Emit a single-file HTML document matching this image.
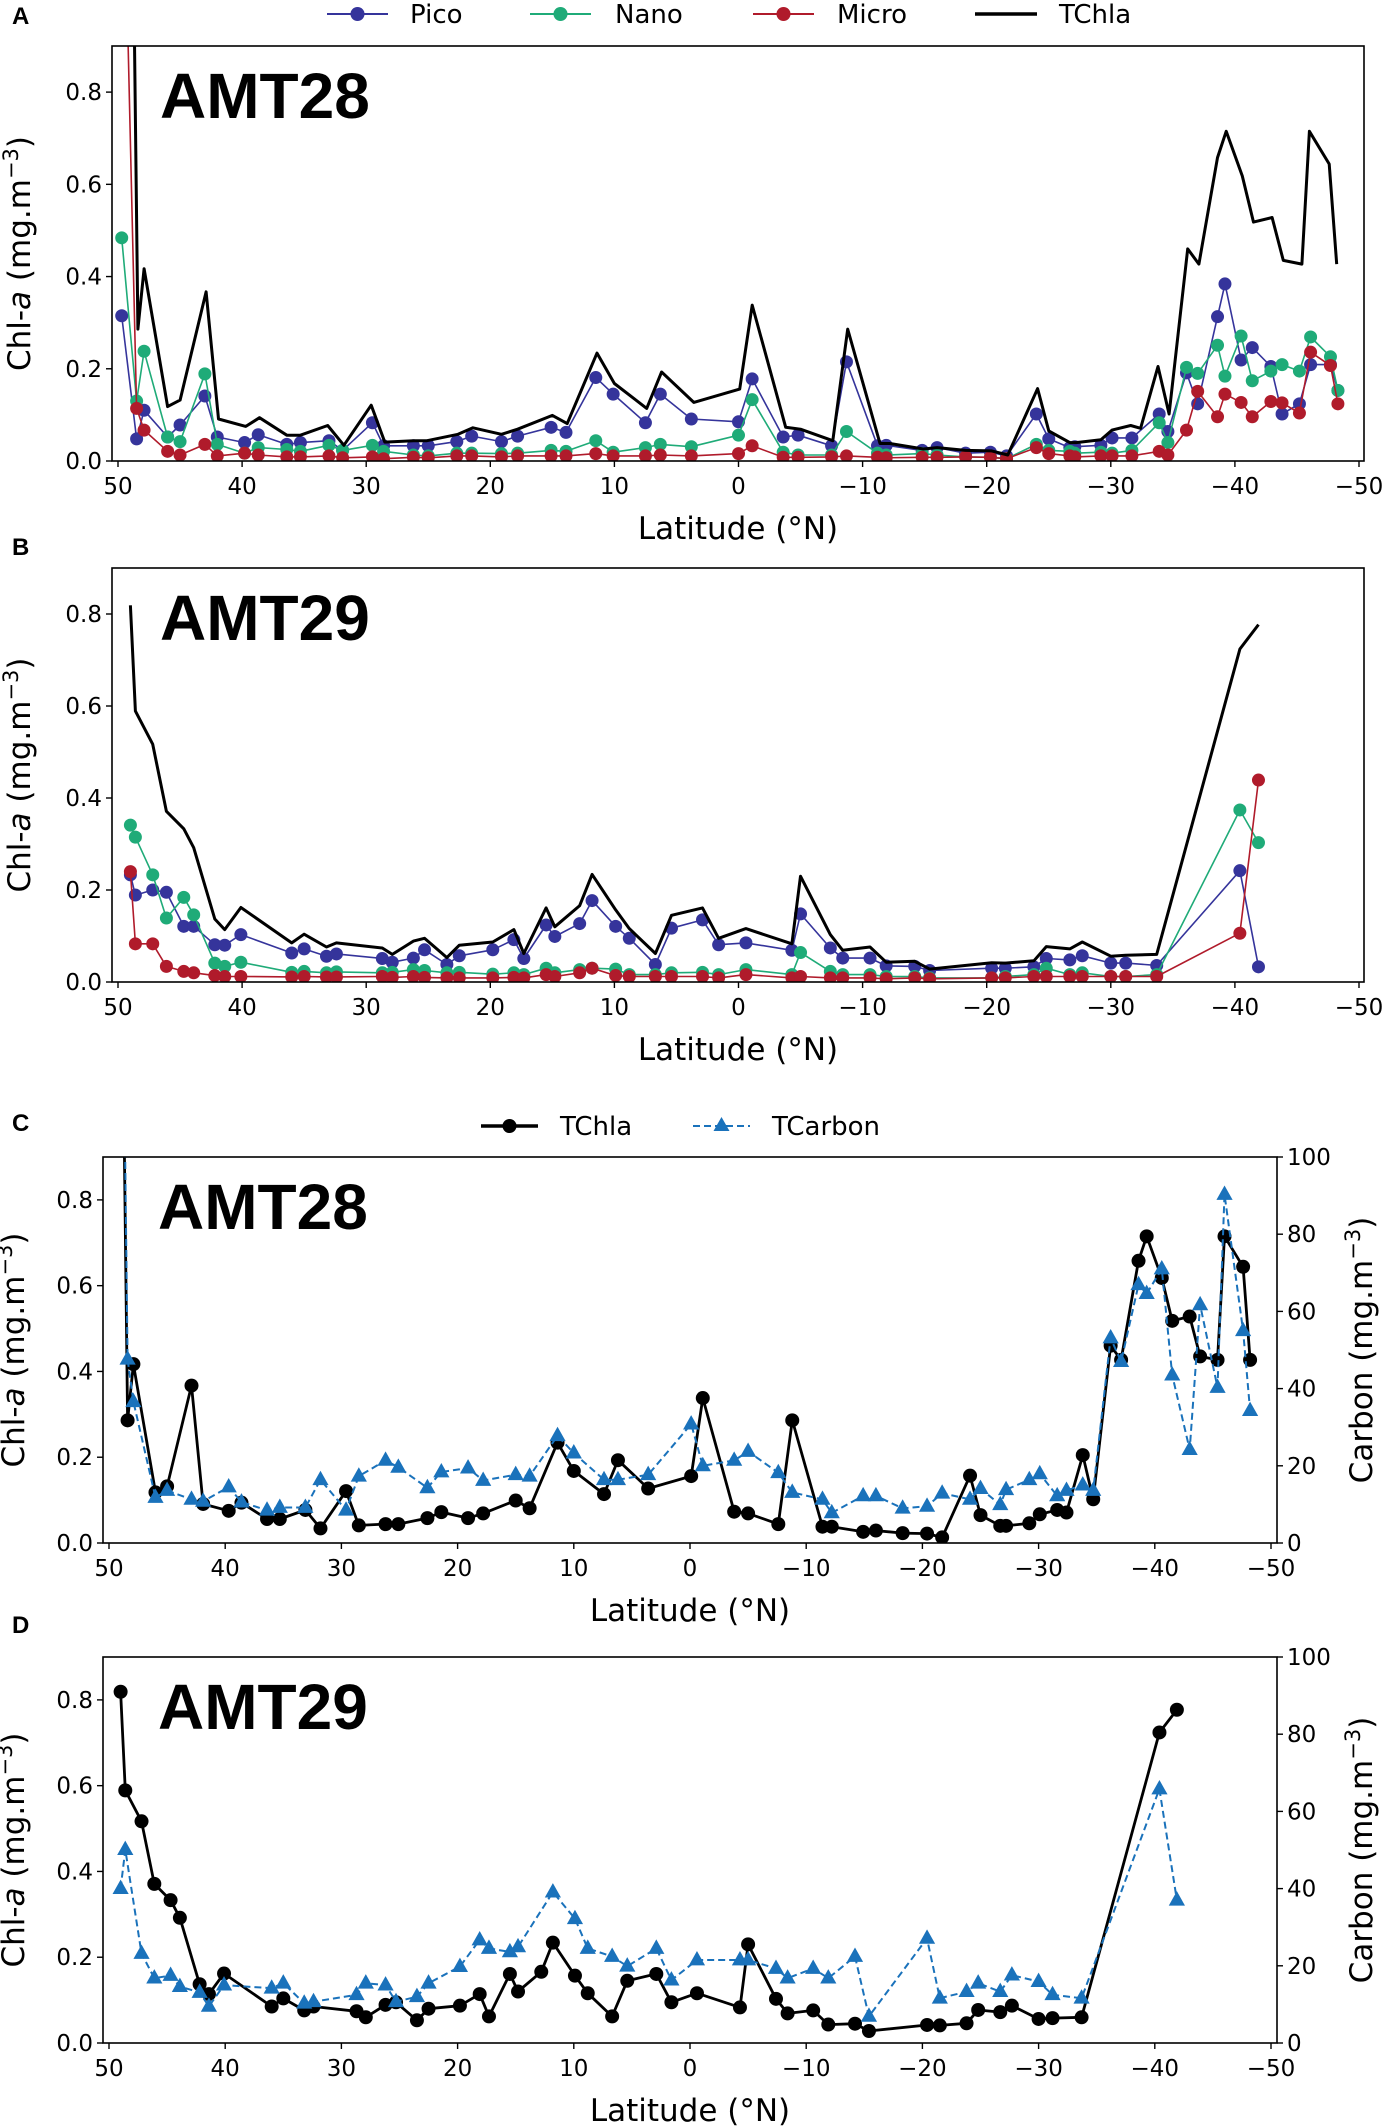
<!DOCTYPE html>
<html><head><meta charset="utf-8"><style>
html,body{margin:0;padding:0;background:#fff}
svg{display:block;font-family:"DejaVu Sans","Liberation Sans",sans-serif}
</style></head><body>
<svg id="fig" width="1384" height="2127" viewBox="0 0 1384 2127" xmlns="http://www.w3.org/2000/svg"></svg>
<script>
// ---- AMT28 (panels A, C) ----
const latC = [48.8,48.4,47.9,46.0,45.0,42.9,41.9,39.7,38.6,36.4,35.3,33.1,31.8,29.6,28.5,26.2,25.1,22.6,21.4,19.1,17.8,15.0,13.8,11.4,10.0,7.4,6.2,3.6,-0.1,-1.1,-3.8,-5.0,-7.6,-8.8,-11.4,-12.2,-14.9,-16.0,-18.3,-20.4,-21.7,-24.1,-25.0,-26.7,-27.2,-29.2,-30.1,-31.6,-32.4,-33.8,-34.7,-36.2,-37.1,-38.6,-39.3,-40.6,-41.5,-43.0,-43.9,-45.4,-46.0,-47.6,-48.2];
const tchla28 = [1.2,0.286,0.417,0.118,0.132,0.367,0.091,0.075,0.094,0.056,0.056,0.077,0.034,0.121,0.041,0.044,0.044,0.058,0.072,0.058,0.069,0.099,0.081,0.234,0.168,0.114,0.193,0.127,0.156,0.338,0.073,0.069,0.044,0.286,0.038,0.038,0.026,0.029,0.023,0.022,0.013,0.157,0.065,0.040,0.040,0.046,0.067,0.077,0.071,0.205,0.102,0.460,0.427,0.658,0.715,0.618,0.518,0.528,0.435,0.427,0.715,0.644,0.427];
const carbon28 = [150,47.6,36.6,11.8,13.6,11.3,10.8,14.5,10.6,8.5,9.2,9.2,16.4,8.5,17.3,21.4,19.6,14.3,18.4,19.4,16.2,17.7,17.3,27.8,23.3,16.4,16.4,17.7,30.8,20.0,21.4,23.7,18.2,13.1,11.3,7.8,12.2,12.2,9.0,9.5,12.9,11.3,14.1,9.9,13.8,16.4,17.9,12.2,13.6,15.0,13.6,53.1,47,66.9,64.6,71.0,43.5,24.2,61.7,40.3,90.3,55.0,34.3];
const latA = [49.7,48.5,47.9,46.0,45.0,43.0,42.0,39.8,38.7,36.4,35.3,33.0,31.9,29.5,28.6,26.2,25.0,22.7,21.5,19.1,17.8,15.1,13.9,11.5,10.1,7.5,6.3,3.8,0.0,-1.1,-3.6,-4.8,-7.5,-8.7,-11.2,-11.9,-14.8,-16.0,-18.3,-20.3,-21.6,-24.0,-25.0,-26.7,-27.1,-29.2,-30.1,-31.7,-33.9,-34.6,-36.1,-37.0,-38.6,-39.2,-40.5,-41.4,-42.9,-43.8,-45.2,-46.1,-47.7,-48.3];
const pico28 = [0.315,0.048,0.11,0.052,0.078,0.141,0.052,0.040,0.057,0.036,0.040,0.044,0.023,0.083,0.033,0.033,0.033,0.042,0.054,0.042,0.054,0.073,0.062,0.181,0.145,0.083,0.145,0.091,0.085,0.178,0.052,0.056,0.033,0.215,0.033,0.034,0.023,0.029,0.017,0.019,0.011,0.102,0.048,0.029,0.031,0.034,0.050,0.050,0.102,0.064,0.191,0.124,0.313,0.384,0.219,0.246,0.205,0.102,0.124,0.209,0.209,0.153];
const nano28 = [0.484,0.13,0.238,0.052,0.042,0.189,0.036,0.017,0.029,0.025,0.021,0.034,0.023,0.034,0.021,0.013,0.011,0.017,0.017,0.016,0.017,0.023,0.021,0.044,0.019,0.029,0.036,0.031,0.056,0.133,0.019,0.013,0.013,0.064,0.017,0.013,0.016,0.013,0.009,0.008,0.005,0.036,0.023,0.021,0.017,0.019,0.017,0.023,0.083,0.040,0.203,0.19,0.251,0.184,0.271,0.174,0.195,0.209,0.195,0.269,0.226,0.153];
const micro28 = [1.5,0.114,0.067,0.021,0.013,0.036,0.011,0.017,0.013,0.009,0.009,0.011,0.007,0.009,0.005,0.008,0.007,0.011,0.011,0.009,0.011,0.011,0.011,0.016,0.011,0.011,0.013,0.011,0.016,0.033,0.008,0.008,0.009,0.011,0.008,0.007,0.008,0.008,0.009,0.008,0.005,0.029,0.016,0.011,0.009,0.011,0.011,0.011,0.021,0.013,0.067,0.151,0.096,0.145,0.127,0.096,0.129,0.126,0.104,0.236,0.207,0.124];
// ---- AMT29 (panels B, D) ----
const latD = [49.0,48.6,47.2,46.1,44.7,43.9,42.2,41.4,40.1,36.0,35.0,33.2,32.4,28.7,27.9,26.2,25.3,23.5,22.5,19.8,18.1,17.3,15.5,14.8,12.8,11.8,9.9,8.8,6.7,5.4,2.9,1.6,-0.6,-4.3,-5.0,-7.4,-8.4,-10.6,-11.9,-14.2,-15.4,-20.4,-21.5,-23.8,-24.8,-26.7,-27.7,-30.0,-31.2,-33.7,-40.4,-41.9];
const tchla29 = [0.819,0.589,0.517,0.371,0.333,0.292,0.137,0.114,0.162,0.085,0.104,0.076,0.085,0.074,0.060,0.089,0.095,0.053,0.080,0.087,0.114,0.062,0.161,0.120,0.166,0.234,0.157,0.116,0.062,0.145,0.161,0.095,0.116,0.083,0.230,0.103,0.069,0.076,0.043,0.045,0.028,0.042,0.041,0.046,0.077,0.072,0.087,0.056,0.058,0.060,0.724,0.777];
const carbon29 = [40.0,50.1,23.2,16.8,17.5,14.6,13.1,9.5,15.0,14.2,15.5,10.3,10.7,12.5,15.5,15.0,10.7,12.0,15.5,19.8,26.7,24.5,23.6,24.9,null,39.1,32.2,24.5,22.4,19.9,24.5,16.3,21.5,21.5,21.5,19.3,16.8,19.3,16.8,22.4,6.9,27.1,11.6,13.3,15.5,13.3,17.6,15.9,12.5,11.6,65.8,37.0];
const pico29 = [0.233,0.189,0.200,0.195,0.121,0.121,0.081,0.080,0.103,0.063,0.072,0.056,0.061,0.051,0.043,0.052,0.070,0.038,0.057,0.070,0.092,0.051,0.124,0.099,0.127,0.177,0.121,0.095,0.038,0.117,0.135,0.081,0.085,0.069,0.148,0.074,0.052,0.052,0.035,0.034,0.025,0.030,0.030,0.033,0.051,0.048,0.057,0.041,0.041,0.036,0.242,0.033];
const nano29 = [0.341,0.315,0.233,0.139,0.184,0.146,0.041,0.034,0.043,0.021,0.023,0.020,0.022,0.020,0.021,0.027,0.025,0.020,0.021,0.017,0.020,0.016,0.030,0.020,0.027,0.030,0.028,0.016,0.016,0.020,0.021,0.016,0.027,0.016,0.064,0.023,0.016,0.016,0.012,0.012,0.009,0.009,0.012,0.016,0.030,0.016,0.020,0.012,0.012,0.016,0.374,0.303];
const micro29 = [0.240,0.083,0.083,0.034,0.023,0.020,0.014,0.012,0.012,0.011,0.012,0.011,0.011,0.012,0.010,0.012,0.010,0.009,0.009,0.009,0.010,0.009,0.016,0.012,0.020,0.030,0.014,0.012,0.012,0.012,0.012,0.009,0.016,0.009,0.012,0.009,0.009,0.009,0.007,0.009,0.007,0.009,0.009,0.012,0.012,0.012,0.012,0.012,0.012,0.012,0.106,0.439];
const xTicks = [50,40,30,20,10,0,-10,-20,-30,-40,-50];
const yTicks = [0.0,0.2,0.4,0.6,0.8];
const cTicks = [0,20,40,60,80,100];

const NS="http://www.w3.org/2000/svg";
const svg=document.getElementById('fig');
function el(tag,attrs,parent){const e=document.createElementNS(NS,tag);for(const k in attrs)e.setAttribute(k,attrs[k]);(parent||svg).appendChild(e);return e;}
const C_PICO="#35349b",C_NANO="#1fab78",C_MICRO="#b01b2b",C_CARB="#1a72bb";
function fmt(v){return v<0?"\u2212"+Math.abs(v):String(v);}

function panel(P){
  const g=el('g',{});
  
  
  const xs=lat=>P.x50+(50-lat)*(P.xm50-P.x50)/100;
  const ys=v=>P.bottom-v/0.9*(P.bottom-P.top);
  const yc=v=>P.bottom-v/100*(P.bottom-P.top);
  const cid='clip'+P.id;
  const cp=el('clipPath',{id:cid},g);
  el('rect',{x:P.left,y:P.top,width:P.right-P.left,height:P.bottom-P.top},cp);
  const plot=el('g',{'clip-path':'url(#'+cid+')'},g);
  function series(lats,vals,scale,opt,nm){
    const sg=el('g',{},plot);
    
    
    const pts=[];
    lats.forEach((l,i)=>{if(vals[i]!==null)pts.push([xs(l),scale(vals[i])]);});
    const pl=el('polyline',{points:pts.map(p=>p[0].toFixed(1)+','+p[1].toFixed(1)).join(' '),fill:'none',stroke:opt.color,'stroke-width':opt.lw,'stroke-linejoin':'round'},sg);
    if(opt.dash)pl.setAttribute('stroke-dasharray',opt.dash);
    pts.forEach(p=>{
      let m;
      if(opt.marker==='o'){m=el('circle',{cx:p[0],cy:p[1],r:opt.r,fill:opt.color},sg);}
      else if(opt.marker==='^'){const s=opt.r;m=el('polygon',{points:`${p[0]},${p[1]-s} ${p[0]-s*0.9},${p[1]+s*0.6} ${p[0]+s*0.9},${p[1]+s*0.6}`,fill:opt.color},sg);}
      if(m){}
    });
  }
  P.series.forEach(s=>series(s.lat,s.vals,s.axis==='c'?yc:ys,s,s.nm));
  const fr=el('rect',{x:P.left,y:P.top,width:P.right-P.left,height:P.bottom-P.top,fill:'none',stroke:'#000','stroke-width':1.6},g);
  
  
  xTicks.forEach(t=>{
    const x=xs(t);
    el('line',{x1:x,x2:x,y1:P.bottom,y2:P.bottom+6,stroke:'#000','stroke-width':1.4},g);
    const tx=el('text',{x:x,y:P.bottom+33,'font-size':23,'text-anchor':'middle',fill:'#000'},g);
    tx.textContent=fmt(t);
    
    
  });
  yTicks.forEach(t=>{
    const y=ys(t);
    el('line',{x1:P.left-6,x2:P.left,y1:y,y2:y,stroke:'#000','stroke-width':1.4},g);
    const tx=el('text',{x:P.left-10,y:y+8,'font-size':23,'text-anchor':'end',fill:'#000'},g);
    tx.textContent=t.toFixed(1);
    
    
  });
  if(P.twin){
    cTicks.forEach(t=>{
      const y=yc(t);
      el('line',{x1:P.right,x2:P.right+6,y1:y,y2:y,stroke:'#000','stroke-width':1.4},g);
      const tx=el('text',{x:P.right+10,y:y+8,'font-size':23,'text-anchor':'start',fill:'#000'},g);
      tx.textContent=t;
      
      
    });
    const cy=(P.top+P.bottom)/2;
    const rl=el('text',{x:P.right+95,y:cy,'font-size':31,'text-anchor':'middle',transform:`rotate(-90 ${P.right+95} ${cy})`},g);
    rl.innerHTML='Carbon (mg.m<tspan dy="-12" font-size="21">\u22123</tspan><tspan dy="12">)</tspan>';
    
    
  }
  const xl=el('text',{x:(P.left+P.right)/2,y:P.bottom+78,'font-size':31,'text-anchor':'middle'},g);
  xl.textContent='Latitude (\u00b0N)';
  
  
  const cy=(P.top+P.bottom)/2, lx=P.ylx;
  const yl=el('text',{x:lx,y:cy,'font-size':31,'text-anchor':'middle',transform:`rotate(-90 ${lx} ${cy})`},g);
  yl.innerHTML='Chl-<tspan font-style="italic">a</tspan> (mg.m<tspan dy="-12" font-size="21">\u22123</tspan><tspan dy="12">)</tspan>';
  
  
  const tt=el('text',{x:P.left+P.titleDx,y:P.top+72,'font-size':64,'font-weight':'bold','font-family':'Liberation Sans, Arial, sans-serif'},g);
  tt.textContent=P.title;
  
  
  const pl=el('text',{x:12,y:P.letterY,'font-size':24,'font-weight':'bold','font-family':'Liberation Sans, sans-serif'},g);
  pl.textContent=P.letter;
  
  
}

const szA=[{lat:latA,vals:pico28,color:C_PICO,lw:1.6,marker:'o',r:6.5,nm:'pico-series'},
 {lat:latA,vals:nano28,color:C_NANO,lw:1.6,marker:'o',r:6.5,nm:'nano-series'},
 {lat:latA,vals:micro28,color:C_MICRO,lw:1.6,marker:'o',r:6.5,nm:'micro-series'},
 {lat:latC,vals:tchla28,color:'#000',lw:3,marker:null,nm:'tchla-line'}];
const szB=[{lat:latD,vals:pico29,color:C_PICO,lw:1.6,marker:'o',r:6.5,nm:'pico-series'},
 {lat:latD,vals:nano29,color:C_NANO,lw:1.6,marker:'o',r:6.5,nm:'nano-series'},
 {lat:latD,vals:micro29,color:C_MICRO,lw:1.6,marker:'o',r:6.5,nm:'micro-series'},
 {lat:latD,vals:tchla29,color:'#000',lw:3,marker:null,nm:'tchla-line'}];
panel({id:'A',name:'panel-a-amt28-size-classes',left:112,right:1364,top:46,bottom:461,x50:118,xm50:1359,title:'AMT28',titleDx:48,letter:'A',letterY:24,ylx:30,series:szA});
panel({id:'B',name:'panel-b-amt29-size-classes',left:112,right:1364,top:568,bottom:982,x50:118,xm50:1359,title:'AMT29',titleDx:48,letter:'B',letterY:555,ylx:30,series:szB});
panel({id:'C',name:'panel-c-amt28-chla-carbon',left:103,right:1277,top:1157,bottom:1543,x50:109,xm50:1271,title:'AMT28',titleDx:55,letter:'C',letterY:1131,ylx:24,twin:true,series:[
 {lat:latC,vals:tchla28,color:'#000',lw:2.8,marker:'o',r:7,nm:'tchla-series'},
 {lat:latC,vals:carbon28,color:C_CARB,lw:2,marker:'^',r:9,dash:'7,4',axis:'c',nm:'tcarbon-series'}]});
panel({id:'D',name:'panel-d-amt29-chla-carbon',left:103,right:1277,top:1657,bottom:2043,x50:109,xm50:1271,title:'AMT29',titleDx:55,letter:'D',letterY:1633,ylx:24,twin:true,series:[
 {lat:latD,vals:tchla29,color:'#000',lw:2.8,marker:'o',r:7,nm:'tchla-series'},
 {lat:latD,vals:carbon29,color:C_CARB,lw:2,marker:'^',r:9,dash:'7,4',axis:'c',nm:'tcarbon-series'}]});

function legend(items,y,nm){
  const g=el('g',{});
  
  
  items.forEach(it=>{
    const e=el('g',{},g);
    
    
    const ln=el('line',{x1:it.x1,x2:it.x2,y1:y,y2:y,stroke:it.color,'stroke-width':it.lw},e);
    if(it.dash)ln.setAttribute('stroke-dasharray',it.dash);
    const mx=(it.x1+it.x2)/2;
    if(it.marker==='o')el('circle',{cx:mx,cy:y,r:7,fill:it.color},e);
    if(it.marker==='^')el('polygon',{points:`${mx},${y-9} ${mx-8},${y+5} ${mx+8},${y+5}`,fill:it.color},e);
    const t=el('text',{x:it.tx,y:y+9,'font-size':26},e);
    t.textContent=it.label;
  });
}
legend([
 {x1:327,x2:388,color:C_PICO,lw:2,marker:'o',tx:410,label:'Pico'},
 {x1:530,x2:591,color:C_NANO,lw:2,marker:'o',tx:615,label:'Nano'},
 {x1:753,x2:814,color:C_MICRO,lw:2,marker:'o',tx:837,label:'Micro'},
 {x1:975,x2:1037,color:'#000',lw:3.5,marker:null,tx:1059,label:'TChla'}],14,'legend-size-classes');
legend([
 {x1:481,x2:538,color:'#000',lw:3.5,marker:'o',tx:560,label:'TChla'},
 {x1:693,x2:750,color:C_CARB,lw:2,marker:'^',dash:'7,4',tx:772,label:'TCarbon'}],1126,'legend-chla-carbon');
</script>
</body></html>
